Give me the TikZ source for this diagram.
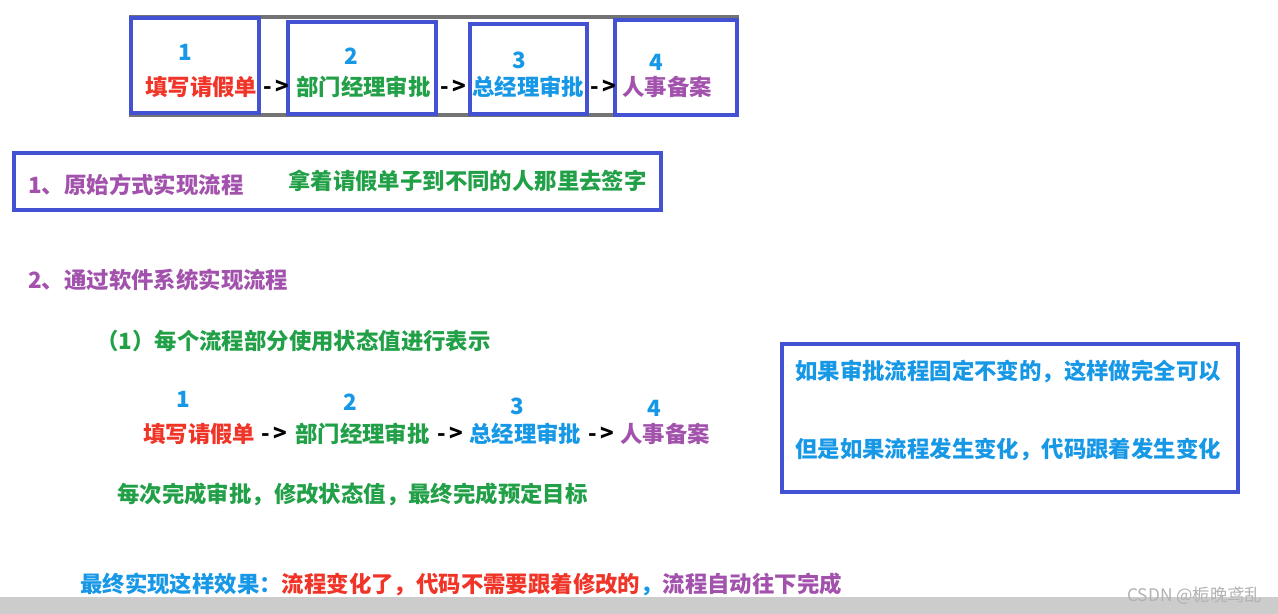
\documentclass[tikz,border=0pt]{standalone}
\usepackage{fontspec}
\setmainfont{Noto Sans CJK SC}
\usepackage{tikz}
\definecolor{boxblue}{RGB}{66,82,210}
\definecolor{numblue}{RGB}{22,152,230}
\definecolor{redtxt}{RGB}{240,52,40}
\definecolor{greentxt}{RGB}{34,160,72}
\definecolor{purpletxt}{RGB}{162,82,172}
\definecolor{framegray}{RGB}{115,115,115}
\definecolor{bargray}{RGB}{204,204,204}
\tikzstyle{txt}=[inner sep=0pt, anchor=west, font=\fontsize{16.8}{18}\selectfont\bfseries]
\tikzstyle{num}=[inner sep=0pt, text=numblue, font=\fontsize{16.8}{18}\selectfont\bfseries]
\tikzstyle{stagebox}=[draw=boxblue, fill=white, line width=2.4pt]

\begin{document}
\begin{tikzpicture}[x=0.75pt, y=-0.75pt]
        \useasboundingbox (0,0) rectangle (1278,614);
        \fill[white] (0,0) rectangle (1278,614);
        % top row in boxes
        \draw[framegray, line width=2.6pt] (131,17) rectangle (737,115);
        \draw[stagebox] (131,18) rectangle (259,113);
        \draw[stagebox] (288,22) rectangle (436,114);
        \draw[stagebox] (470,24) rectangle (587,114);
        \draw[stagebox] (615,20) rectangle (737,115);
        \node[num] (n1) at (185,52) {1};
        \node[num] (n2) at (351,56) {2};
        \node[num] (n3) at (519,60) {3};
        \node[num] (n4) at (656,62) {4};
        \node[txt, text=redtxt] (t1) at (145,87) {填写请假单};
        \node[txt] (a1) at (263,87) {-\,>};
        \node[txt, text=greentxt] (t2) at (296,87) {部门经理审批};
        \node[txt] (a2) at (440,87) {-\,>};
        \node[txt, text=numblue] (t3) at (472,87) {总经理审批};
        \node[txt] (a3) at (590,87) {-\,>};
        \node[txt, text=purpletxt] (t4) at (622,87) {人事备案};
        % way 1
        \draw[boxblue, line width=2.4pt] (14,153) rectangle (661,210);
        \node[txt, text=purpletxt] (way1) at (28,185) {1、原始方式实现流程};
        \node[txt, text=greentxt] (sign) at (288,181) {拿着请假单子到不同的人那里去签字};
        % way 2
        \node[txt, text=purpletxt] (way2) at (28,280) {2、通过软件系统实现流程};
        \node[txt, text=greentxt] (state) at (96,341) {（1）每个流程部分使用状态值进行表示};
        \node[num] (m1) at (183,399) {1};
        \node[num] (m2) at (350,402) {2};
        \node[num] (m3) at (517,406) {3};
        \node[num] (m4) at (654,408) {4};
        \node[txt, text=redtxt] (s1) at (143,434) {填写请假单};
        \node[txt] (b1) at (261,434) {-\,>};
        \node[txt, text=greentxt] (s2) at (295,434) {部门经理审批};
        \node[txt] (b2) at (437,434) {-\,>};
        \node[txt, text=numblue] (s3) at (469,434) {总经理审批};
        \node[txt] (b3) at (588,434) {-\,>};
        \node[txt, text=purpletxt] (s4) at (620,434) {人事备案};
        \node[txt, text=greentxt] (each) at (117,494) {每次完成审批，修改状态值，最终完成预定目标};
        % note on the right
        \draw[boxblue, line width=2.4pt] (782,344) rectangle (1238,492);
        \node[txt, text=numblue] (fixed) at (795,371) {如果审批流程固定不变的，这样做完全可以};
        \node[txt, text=numblue] (change) at (795,450) {但是如果流程发生变化，代码跟着发生变化};
        % result
        \node[txt] (result) at (80,584) {{\color{numblue}最终实现这样效果：}{\color{redtxt}流程变化了，代码不需要跟着修改的}{\color{numblue}，}{\color{purpletxt}流程自动往下完成}};
        \fill[bargray] (0,597) rectangle (1278,614);
        \node[inner sep=0pt, anchor=west, text=gray!60, font=\fontsize{13}{14}\selectfont] (mark) at (1127,596) {CSDN @栀晚鸢乱};
\end{tikzpicture}
\end{document}
